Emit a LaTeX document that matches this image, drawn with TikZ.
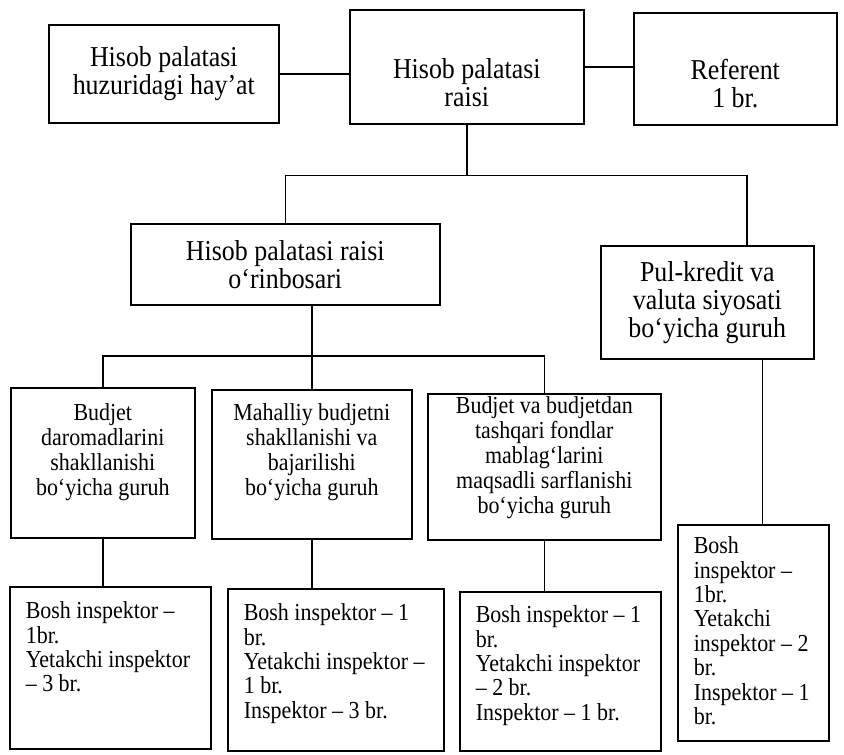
\documentclass[tikz,border=0pt]{standalone}
\usepackage{fontspec}
\setmainfont[FakeStretch=0.9]{Liberation Serif}
\usetikzlibrary{positioning,calc}

% box body: width, height, inner position, text
\newcommand{\cell}[4]{\parbox[c][#2][#3]{#1}{#4}}

\begin{document}
\begin{tikzpicture}[x=0.5pt,y=-0.5pt]

    \tikzstyle{box} = [rectangle, draw=black, line width=0.8pt, inner sep=0pt, anchor=north west]
    \tikzstyle{head} = [box, font=\fontsize{14.4}{14}\selectfont]
    \tikzstyle{group} = [box, font=\fontsize{12.2}{12.5}\selectfont]
    \tikzstyle{staff} = [box, font=\fontsize{12.2}{12.2}\selectfont]
    \tikzstyle{line} = [draw=black, line width=0.8pt]

    \useasboundingbox (0,0) rectangle (844,754);

    % top row
    \node [head] (council) at (48,24) {\cell{115pt}{49pt}{c}{\centering Hisob palatasi\\ huzuridagi hay’at}};
    \node [head] (chair) at (349,9) {\cell{117pt}{57pt}{c}{\centering\vspace*{16pt}Hisob palatasi\\ raisi}};
    \node [head] (referent) at (633,12) {\cell{101.5pt}{56pt}{c}{\centering\vspace*{15pt}Referent\\ 1 br.}};

    % second row
    \node [head] (deputy) at (130,223) {\cell{154.5pt}{40.5pt}{c}{\centering Hisob palatasi raisi\\ o‘rinbosari}};
    \node [head] (monetary) at (600,245) {\cell{106.5pt}{56.5pt}{c}{\centering Pul-kredit va\\ valuta siyosati\\ bo‘yicha guruh}};

    % groups
    \node [group] (revenue) at (10,387) {\cell{92pt}{75pt}{t}{\centering\vspace*{8pt}Budjet\\ daromadlarini\\ shakllanishi\\ bo‘yicha guruh}};
    \node [group] (local) at (211,389) {\cell{100pt}{74.5pt}{t}{\centering\vspace*{7pt}Mahalliy budjetni\\ shakllanishi va\\ bajarilishi\\ bo‘yicha guruh}};
    \node [group] (funds) at (427,393) {\cell{116.5pt}{73pt}{t}{\centering\vspace*{1.5pt}Budjet va budjetdan\\ tashqari fondlar\\ mablag‘larini\\ maqsadli sarflanishi\\ bo‘yicha guruh}};

    % staff
    \node [staff] (staffRevenue) at (9,586) {\cell{100.5pt}{81pt}{t}{\raggedright\leftskip=8pt\vspace*{7.5pt}Bosh inspektor –\\ 1br.\\ Yetakchi inspektor\\ – 3 br.}};
    \node [staff] (staffLocal) at (227,588) {\cell{108pt}{81pt}{t}{\raggedright\leftskip=8pt\vspace*{7.5pt}Bosh inspektor – 1\\ br.\\ Yetakchi inspektor –\\ 1 br.\\ Inspektor – 3 br.}};
    \node [staff] (staffFunds) at (459,591) {\cell{100.5pt}{79.5pt}{t}{\raggedright\leftskip=8pt\vspace*{7pt}Bosh inspektor – 1\\ br.\\ Yetakchi inspektor\\ – 2 br.\\ Inspektor – 1 br.}};
    \node [staff] (staffMonetary) at (677,524) {\cell{75.5pt}{108pt}{t}{\raggedright\leftskip=8pt\vspace*{6pt}Bosh\\ inspektor –\\ 1br.\\ Yetakchi\\ inspektor – 2\\ br.\\ Inspektor – 1\\ br.}};

    \draw [line] (council.east) -- (council.east -| chair.west);
    \draw [line] (chair.east) -- (chair.east -| referent.west);

    \coordinate (topBus) at ([yshift=-25.5pt]chair.south);
    \draw [line] (chair.south) -- (topBus);
    \draw [line] (deputy.north) |- (topBus) -| ([xshift=73.5pt]monetary.north west);

    \coordinate (midBus) at ([yshift=16.5pt]local.north);
    \draw [line] (local.north) -- (local.north |- deputy.south);
    \draw [line] (revenue.north) |- (midBus) -| (funds.north);

    \draw [line] (revenue.south) -- (revenue.south |- staffRevenue.north);
    \draw [line] (local.south) -- (local.south |- staffLocal.north);
    \draw [line] (funds.south) -- (funds.south |- staffFunds.north);
    \draw [line] ([xshift=4.5pt]staffMonetary.north) -- ([xshift=4.5pt]staffMonetary.north |- monetary.south);

\end{tikzpicture}
\end{document}
